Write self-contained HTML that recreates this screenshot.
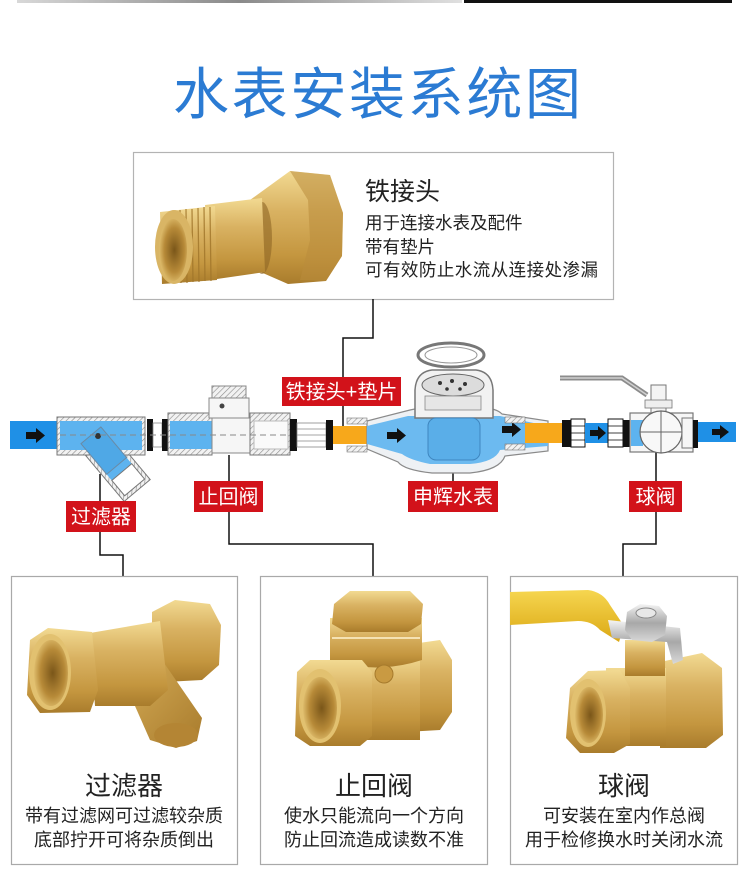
<!DOCTYPE html>
<html><head><meta charset="utf-8"><style>
html,body{margin:0;padding:0;background:#fff;}
svg{display:block;}
</style></head><body>
<svg width="750" height="877" viewBox="0 0 750 877" xmlns="http://www.w3.org/2000/svg" font-family="'Liberation Sans','Noto Sans CJK SC',sans-serif">
<defs>
<linearGradient id="topbar" x1="0" x2="1" y1="0" y2="0"><stop offset="0" stop-color="#d8d8d8"/><stop offset="0.5" stop-color="#8a8a8a"/><stop offset="1" stop-color="#e0e0e0"/></linearGradient>
<linearGradient id="brassV" x1="0" x2="0" y1="0" y2="1"><stop offset="0" stop-color="#f2da92"/><stop offset="0.35" stop-color="#d9b262"/><stop offset="0.75" stop-color="#c4963f"/><stop offset="1" stop-color="#a97c2c"/></linearGradient>
<linearGradient id="brassH" x1="0" x2="1" y1="0" y2="0"><stop offset="0" stop-color="#e6c572"/><stop offset="0.5" stop-color="#d2a851"/><stop offset="1" stop-color="#b48636"/></linearGradient>
<linearGradient id="brassD" x1="0" x2="1" y1="0" y2="1"><stop offset="0" stop-color="#d6ad58"/><stop offset="1" stop-color="#a87b2c"/></linearGradient>
<radialGradient id="hole" cx="0.55" cy="0.5" r="0.6"><stop offset="0" stop-color="#7a5619"/><stop offset="0.6" stop-color="#b78a38"/><stop offset="1" stop-color="#e8c979"/></radialGradient>
<linearGradient id="yellow" x1="0" x2="0" y1="0" y2="1"><stop offset="0" stop-color="#f6d650"/><stop offset="1" stop-color="#dba814"/></linearGradient>
<linearGradient id="chrome" x1="0" x2="0" y1="0" y2="1"><stop offset="0" stop-color="#f4f4f4"/><stop offset="0.5" stop-color="#a8a8a8"/><stop offset="1" stop-color="#d8d8d8"/></linearGradient>
<pattern id="hatch" width="4" height="4" patternUnits="userSpaceOnUse" patternTransform="rotate(45)"><rect width="4" height="4" fill="#f2f2f2"/><line x1="0" y1="0" x2="0" y2="4" stroke="#8a8a8a" stroke-width="1.2"/></pattern>
</defs>

<!-- top bars -->
<rect x="17" y="0" width="445" height="3" fill="url(#topbar)"/>
<rect x="464" y="0" width="268" height="3" fill="#111"/>

<!-- title -->
<text x="377" y="114" text-anchor="middle" font-size="56" fill="#2b7bd3" textLength="408" lengthAdjust="spacing">水表安装系统图</text>

<!-- top box -->
<rect x="133.5" y="152.5" width="480" height="147" fill="#fff" stroke="#b3b3b3" stroke-width="1.2"/>
<!-- brass connector -->
<polygon points="250,200 290,171 330,175 343,213 342,256 326,281 288,284 256,270" fill="url(#brassV)"/>
<polygon points="290,171 330,175 343,213 342,256 326,281 300,280 310,240 308,200" fill="#b98c3c" opacity="0.55"/>
<ellipse cx="262" cy="238" rx="10" ry="36" fill="#8d6524" opacity="0.6"/>
<polygon points="205,205 262,198 265,272 210,280" fill="url(#brassV)"/>
<polygon points="160,212 215,206 217,280 162,284" fill="url(#brassV)"/>
<g stroke="#a0752a" stroke-width="1.3" opacity="0.8">
<line x1="180" y1="210" x2="181" y2="283"/><line x1="186" y1="209" x2="187" y2="283"/><line x1="192" y1="209" x2="193" y2="282"/><line x1="198" y1="208" x2="199" y2="282"/><line x1="204" y1="207" x2="205" y2="281"/><line x1="210" y1="207" x2="211" y2="281"/>
</g>
<ellipse cx="174" cy="247" rx="19" ry="37" fill="#d9b565"/>
<ellipse cx="173" cy="250" rx="14" ry="31" fill="url(#hole)"/>

<text x="365" y="200" font-size="25" fill="#222">铁接头</text>
<text x="365" y="229" font-size="17.5" fill="#222">用于连接水表及配件</text>
<text x="365" y="253" font-size="17.5" fill="#222">带有垫片</text>
<text x="365" y="276" font-size="17.5" fill="#222" textLength="233" lengthAdjust="spacing">可有效防止水流从连接处渗漏</text>

<!-- connector lines -->
<g fill="none" stroke="#111" stroke-width="1.5">
<polyline points="373,299 373,338 343,338 343,377"/>
<line x1="343" y1="406" x2="343" y2="426"/>
<line x1="100" y1="474" x2="100" y2="501"/>
<polyline points="100,532 100,555 123,555 123,576"/>
<line x1="229" y1="455" x2="229" y2="481"/>
<polyline points="229,512 229,544 373,544 373,576"/>
<line x1="453" y1="470" x2="453" y2="481"/>
<line x1="656" y1="452" x2="656" y2="481"/>
<polyline points="656,512 656,544 623,544 623,576"/>
</g>

<!-- ===== pipeline ===== -->
<!-- left blue pipe -->
<rect x="10" y="421" width="50" height="28" fill="#1f90e6"/>
<polygon points="26,432 36,432 36,428 45,435.5 36,443 36,439 26,439" fill="#111"/>

<!-- Y filter -->
<g transform="rotate(-40 112 462)">
<rect x="96" y="425" width="34" height="75" fill="url(#hatch)" stroke="#777"/>
<rect x="100" y="428" width="26" height="48" fill="#5db3ef"/>
<rect x="100" y="476" width="26" height="20" fill="#fff" stroke="#777"/>
</g>
<rect x="57" y="417" width="88" height="38" fill="url(#hatch)" stroke="#777"/>
<rect x="60" y="421" width="82" height="29" fill="#5db3ef"/>
<g transform="rotate(-40 112 462)">
<rect x="100" y="428" width="26" height="40" fill="#4fa8e6" stroke="#6a8aa5"/>
</g>
<circle cx="98" cy="436" r="3" fill="#333"/>

<!-- rings -->
<rect x="147" y="419" width="6" height="32" fill="#111"/>
<rect x="153" y="423" width="9" height="24" fill="#fff" stroke="#888" stroke-width="0.8"/>
<rect x="162" y="419" width="6" height="32" fill="#111"/>

<!-- check valve -->
<rect x="168" y="413" width="44" height="42" fill="url(#hatch)" stroke="#777"/>
<rect x="170" y="421" width="44" height="28" fill="#5db3ef"/>
<rect x="212" y="416" width="40" height="37" fill="#f6f6f6" stroke="#888"/>
<rect x="209" y="398" width="40" height="20" fill="#f6f6f6" stroke="#888"/>
<rect x="212" y="386" width="34" height="12" fill="url(#hatch)" stroke="#888"/>
<circle cx="222" cy="406" r="2.5" fill="#444"/>
<rect x="250" y="413" width="40" height="42" fill="url(#hatch)" stroke="#777"/>
<rect x="254" y="421" width="34" height="28" fill="#fafafa" stroke="#bbb"/>
<line x1="60" y1="435" x2="330" y2="435" stroke="#888" stroke-width="1" stroke-dasharray="6,4"/>

<rect x="290" y="419" width="7" height="32" fill="#111"/>
<rect x="297" y="423" width="29" height="24" fill="#fff" stroke="#888" stroke-width="0.8"/>
<g stroke="#888" stroke-width="0.8"><line x1="297" y1="429" x2="326" y2="429"/><line x1="297" y1="435" x2="326" y2="435"/><line x1="297" y1="441" x2="326" y2="441"/></g>
<rect x="326" y="420" width="7" height="30" fill="#111"/>
<rect x="333" y="426" width="34" height="18" fill="#f7a81b"/>

<!-- water meter -->
<path d="M367,421 L410,410 Q418,408 430,408 L482,408 Q496,408 502,414 L548,421 L548,451 L505,456 Q500,470 470,473 L432,473 Q404,470 398,462 L367,449 Z" fill="#eef1f4" stroke="#8a8a8a" stroke-width="1.2"/>
<path d="M367,426 L408,416 L500,416 L548,426 L548,446 L500,450 Q495,462 470,464 L430,464 Q410,460 402,454 L367,444 Z" fill="#6cbaf0"/>
<path d="M415,418 L415,390 Q416,372 432,370 L476,370 Q492,372 493,390 L493,418 Z" fill="#f2f2f2" stroke="#777" stroke-width="1.5"/>
<ellipse cx="453" cy="385" rx="31" ry="11" fill="#dcdcdc" stroke="#666"/>
<g fill="#333"><circle cx="440" cy="383" r="2"/><circle cx="452" cy="381" r="2"/><circle cx="465" cy="384" r="2"/><circle cx="447" cy="389" r="1.8"/><circle cx="460" cy="389" r="1.8"/></g>
<rect x="425" y="396" width="56" height="14" fill="#e6e6e6" stroke="#888" stroke-width="0.8"/>
<rect x="428" y="418" width="52" height="42" rx="8" fill="#5aaee8" stroke="#3f86bf" stroke-width="1"/>
<ellipse cx="451" cy="355" rx="33" ry="12" fill="#fff" stroke="#777" stroke-width="3"/>
<ellipse cx="451" cy="355" rx="26" ry="8" fill="#fff" stroke="#999" stroke-width="1"/>
<polygon points="387,432 397,432 397,428 406,435.5 397,443 397,439 387,439" fill="#111"/>
<polygon points="502,426 512,426 512,422 521,429.5 512,437 512,433 502,433" fill="#111"/>
<rect x="347" y="418" width="20" height="6" fill="url(#hatch)" stroke="#777" stroke-width="0.6"/>
<rect x="347" y="446" width="20" height="6" fill="url(#hatch)" stroke="#777" stroke-width="0.6"/>
<rect x="505" y="417" width="20" height="6" fill="url(#hatch)" stroke="#777" stroke-width="0.6"/>
<rect x="505" y="444" width="20" height="6" fill="url(#hatch)" stroke="#777" stroke-width="0.6"/>

<!-- right orange & unions -->
<rect x="525" y="423" width="37" height="20" fill="#f7a81b"/>
<rect x="562" y="420" width="9" height="27" fill="#111"/>
<rect x="571" y="419" width="14" height="28" fill="#fff" stroke="#111" stroke-width="1"/>
<g stroke="#111" stroke-width="0.8"><line x1="571" y1="426" x2="585" y2="426"/><line x1="571" y1="433" x2="585" y2="433"/><line x1="571" y1="440" x2="585" y2="440"/></g>
<rect x="585" y="423" width="23" height="20" fill="#1f90e6"/>
<polygon points="590,430 598,430 598,426 606,433 598,440 598,436 590,436" fill="#111"/>
<rect x="608" y="419" width="15" height="28" fill="#fff" stroke="#111" stroke-width="1"/>
<g stroke="#111" stroke-width="0.8"><line x1="608" y1="426" x2="623" y2="426"/><line x1="608" y1="433" x2="623" y2="433"/><line x1="608" y1="440" x2="623" y2="440"/></g>
<rect x="623" y="420" width="7" height="27" fill="#111"/>

<!-- ball valve -->
<polyline points="560,378 622,378 647,395" fill="none" stroke="#8c8c8c" stroke-width="5"/>
<polyline points="560,378 622,378 647,395" fill="none" stroke="#d0d0d0" stroke-width="1.5"/>
<rect x="651" y="385" width="15" height="30" fill="#f4f4f4" stroke="#777"/>
<rect x="645" y="400" width="27" height="8" fill="#eee" stroke="#777" stroke-width="0.8"/>
<rect x="630" y="413" width="63" height="39" fill="#f6f6f6" stroke="#777" stroke-width="1.2"/>
<rect x="631" y="420" width="12" height="26" fill="#5db3ef"/>
<circle cx="661" cy="432" r="21" fill="#f8f8f8" stroke="#666" stroke-width="1.2"/>
<line x1="661" y1="411" x2="661" y2="453" stroke="#666"/>
<line x1="640" y1="432" x2="682" y2="432" stroke="#666"/>
<rect x="682" y="418" width="11" height="30" fill="none" stroke="#777"/>
<rect x="693" y="420" width="5" height="28" fill="#111"/>
<rect x="698" y="422" width="38" height="20" fill="#1f90e6"/>
<polygon points="712,429 720,429 720,425 729,432 720,439 720,435 712,435" fill="#111"/>

<!-- red labels -->
<g font-size="20" fill="#fff" text-anchor="middle">
<rect x="282" y="377" width="119" height="29" fill="#d2121a"/>
<text x="341.5" y="398.5">铁接头+垫片</text>
<rect x="66" y="501" width="70" height="31" fill="#d2121a"/>
<text x="101" y="523.5">过滤器</text>
<rect x="194" y="481" width="69" height="31" fill="#d2121a"/>
<text x="228.5" y="503.5">止回阀</text>
<rect x="408" y="481" width="90" height="31" fill="#d2121a"/>
<text x="453" y="503.5">申辉水表</text>
<rect x="629" y="481" width="53" height="31" fill="#d2121a"/>
<text x="655.5" y="503.5">球阀</text>
</g>

<!-- bottom boxes -->
<rect x="11.5" y="576.5" width="226" height="288" fill="#fff" stroke="#a9a9a9" stroke-width="1.2"/>
<rect x="260.5" y="576.5" width="227" height="288" fill="#fff" stroke="#a9a9a9" stroke-width="1.2"/>
<rect x="510.5" y="576.5" width="227" height="288" fill="#fff" stroke="#a9a9a9" stroke-width="1.2"/>

<!-- Y strainer brass -->
<polygon points="152,612 175,600 210,604 221,625 219,665 202,680 165,682 152,668" fill="url(#brassV)"/>
<polygon points="120,672 162,660 202,718 197,741 176,748 150,740" fill="url(#brassD)"/>
<ellipse cx="176" cy="735" rx="22" ry="12" fill="#b48534"/>
<polygon points="90,633 160,621 168,690 150,706 95,706" fill="url(#brassV)"/>
<polygon points="30,640 48,628 92,632 98,690 90,712 40,713 27,695" fill="url(#brassV)"/>
<ellipse cx="50" cy="672" rx="21" ry="38" fill="#e2c170"/>
<ellipse cx="51" cy="673" rx="17" ry="33" fill="url(#hole)"/>

<!-- check valve brass -->
<polygon points="405,645 440,640 452,660 452,712 440,730 405,732" fill="url(#brassV)"/>
<rect x="340" y="655" width="80" height="85" fill="url(#brassV)"/>
<path d="M330,618 L422,618 L422,660 Q376,675 330,660 Z" fill="url(#brassV)"/>
<polygon points="334,604 350,591 410,591 423,604 421,624 408,632 346,632 332,624" fill="url(#brassV)"/>
<line x1="332" y1="638" x2="420" y2="638" stroke="#fff3d0" stroke-width="1.5"/>
<circle cx="384" cy="674" r="9" fill="#c99a42" stroke="#a67a2c"/>
<polygon points="297,672 310,660 362,660 372,672 372,736 360,746 310,746 295,736" fill="url(#brassV)"/>
<ellipse cx="320" cy="706" rx="21" ry="37" fill="#e2c170"/>
<ellipse cx="320" cy="708" rx="17" ry="31" fill="url(#hole)"/>

<!-- ball valve brass -->
<polygon points="660,662 702,653 722,668 723,735 706,748 660,748" fill="url(#brassV)"/>
<rect x="606" y="668" width="60" height="78" fill="url(#brassV)"/>
<rect x="625" y="640" width="40" height="36" fill="url(#brassV)"/>
<path d="M510,592 L588,590 Q603,592 610,605 L624,626 L619,642 L600,630 Q592,621 578,621 L510,625 Z" fill="url(#yellow)"/>
<polygon points="608,620 680,628 683,660 673,664 667,642 612,638" fill="url(#chrome)"/>
<polygon points="627,612 640,604 659,606 667,616 665,635 652,642 632,640 625,630" fill="url(#chrome)"/>
<ellipse cx="646" cy="613" rx="10" ry="5" fill="#e8e8e8" stroke="#888"/>
<polygon points="570,688 588,671 620,670 630,688 630,744 614,753 580,753 566,738" fill="url(#brassV)"/>
<ellipse cx="588" cy="713" rx="18" ry="34" fill="#e2c170"/>
<ellipse cx="589" cy="715" rx="14" ry="28" fill="url(#hole)"/>

<!-- bottom texts -->
<g fill="#222" text-anchor="middle">
<text x="124" y="795" font-size="26">过滤器</text>
<text x="124" y="822" font-size="18">带有过滤网可过滤较杂质</text>
<text x="124" y="846" font-size="18">底部拧开可将杂质倒出</text>
<text x="374" y="795" font-size="26">止回阀</text>
<text x="374" y="822" font-size="18">使水只能流向一个方向</text>
<text x="374" y="846" font-size="18">防止回流造成读数不准</text>
<text x="624" y="795" font-size="26">球阀</text>
<text x="624" y="822" font-size="18">可安装在室内作总阀</text>
<text x="624" y="846" font-size="18">用于检修换水时关闭水流</text>
</g>
</svg>
</body></html>
